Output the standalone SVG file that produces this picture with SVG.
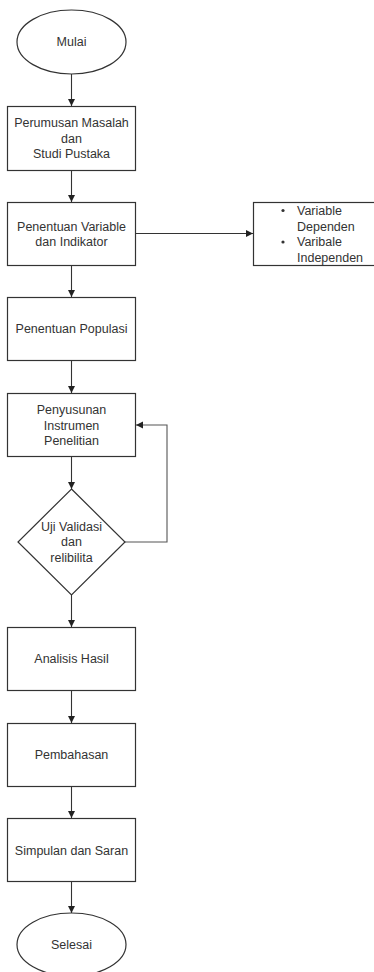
<svg xmlns="http://www.w3.org/2000/svg" width="374" height="972" viewBox="0 0 374 972">
<style>
.box{fill:#ffffff;stroke:#333333;stroke-width:1.2}
.t{font-family:"Liberation Sans",Arial,sans-serif;font-size:12.5px;fill:#333333;text-anchor:middle;dominant-baseline:central}
.tl{font-family:"Liberation Sans",Arial,sans-serif;font-size:12.5px;fill:#333333;dominant-baseline:central}
.c{fill:none;stroke:#333333;stroke-width:1.1}
.fb{fill:none;stroke:#555555;stroke-width:1.1}
</style>
<defs>
<marker id="ah" markerWidth="8" markerHeight="8" refX="7" refY="4" orient="auto" markerUnits="userSpaceOnUse">
<path d="M0,0.5 L7,4 L0,7.5 Z" fill="#222222"/>
</marker>
</defs>
<rect width="374" height="972" fill="#ffffff"/>
<g id="connectors">
<line class="c" x1="71.5" y1="74" x2="71.5" y2="106" marker-end="url(#ah)"/>
<line class="c" x1="71.5" y1="171" x2="71.5" y2="202" marker-end="url(#ah)"/>
<line class="c" x1="71.5" y1="266" x2="71.5" y2="297" marker-end="url(#ah)"/>
<line class="c" x1="71.5" y1="361" x2="71.5" y2="393" marker-end="url(#ah)"/>
<line class="c" x1="71.5" y1="457" x2="71.5" y2="489" marker-end="url(#ah)"/>
<line class="c" x1="71.5" y1="595" x2="71.5" y2="627" marker-end="url(#ah)"/>
<line class="c" x1="71.5" y1="691" x2="71.5" y2="723" marker-end="url(#ah)"/>
<line class="c" x1="71.5" y1="787" x2="71.5" y2="818" marker-end="url(#ah)"/>
<line class="c" x1="71.5" y1="882" x2="71.5" y2="913" marker-end="url(#ah)"/>
<line class="c" x1="136" y1="233.5" x2="253" y2="233.5" marker-end="url(#ah)"/>
<polyline class="fb" points="125,542 167,542 167,425 136,425" marker-end="url(#ah)"/>
</g>
<g id="mulai">
<ellipse class="box" cx="71.5" cy="42" rx="54.5" ry="32"/>
<text class="t" x="71.5" y="42">Mulai</text>
</g>
<g id="perumusan">
<rect class="box" x="7.5" y="106.5" width="128" height="64"/>
<text class="t" x="71.5" y="123">Perumusan Masalah</text>
<text class="t" x="71.5" y="138.5">dan</text>
<text class="t" x="71.5" y="154">Studi Pustaka</text>
</g>
<g id="penentuan-variable">
<rect class="box" x="7.5" y="202.5" width="128" height="63"/>
<text class="t" x="71.5" y="226.5">Penentuan Variable</text>
<text class="t" x="71.5" y="242">dan Indikator</text>
</g>
<g id="variabel-list">
<rect class="box" x="253.5" y="202.5" width="125" height="63"/>
<circle cx="283" cy="210.5" r="1.6" fill="#333333"/>
<text class="tl" x="297" y="210.5">Variable</text>
<text class="tl" x="297" y="226.5">Dependen</text>
<circle cx="283" cy="242" r="1.6" fill="#333333"/>
<text class="tl" x="297" y="242">Varibale</text>
<text class="tl" x="297" y="258">Independen</text>
</g>
<g id="populasi">
<rect class="box" x="7.5" y="297.5" width="128" height="63"/>
<text class="t" x="71.5" y="329">Penentuan Populasi</text>
</g>
<g id="instrumen">
<rect class="box" x="7.5" y="393.5" width="128" height="63"/>
<text class="t" x="71.5" y="410">Penyusunan</text>
<text class="t" x="71.5" y="425.5">Instrumen</text>
<text class="t" x="71.5" y="441">Penelitian</text>
</g>
<g id="uji">
<polygon class="box" points="71.5,489 125,542 71.5,595 18,542"/>
<text class="t" x="71.5" y="527">Uji Validasi</text>
<text class="t" x="71.5" y="542">dan</text>
<text class="t" x="71.5" y="558">relibilita</text>
</g>
<g id="analisis">
<rect class="box" x="7.5" y="627.5" width="128" height="63"/>
<text class="t" x="71.5" y="658.5">Analisis Hasil</text>
</g>
<g id="pembahasan">
<rect class="box" x="7.5" y="723.5" width="128" height="63"/>
<text class="t" x="71.5" y="754.5">Pembahasan</text>
</g>
<g id="simpulan">
<rect class="box" x="7.5" y="818.5" width="128" height="63"/>
<text class="t" x="71.5" y="850.5">Simpulan dan Saran</text>
</g>
<g id="selesai">
<ellipse class="box" cx="71.5" cy="944.5" rx="54.5" ry="31.5"/>
<text class="t" x="71.5" y="945">Selesai</text>
</g>
</svg>
